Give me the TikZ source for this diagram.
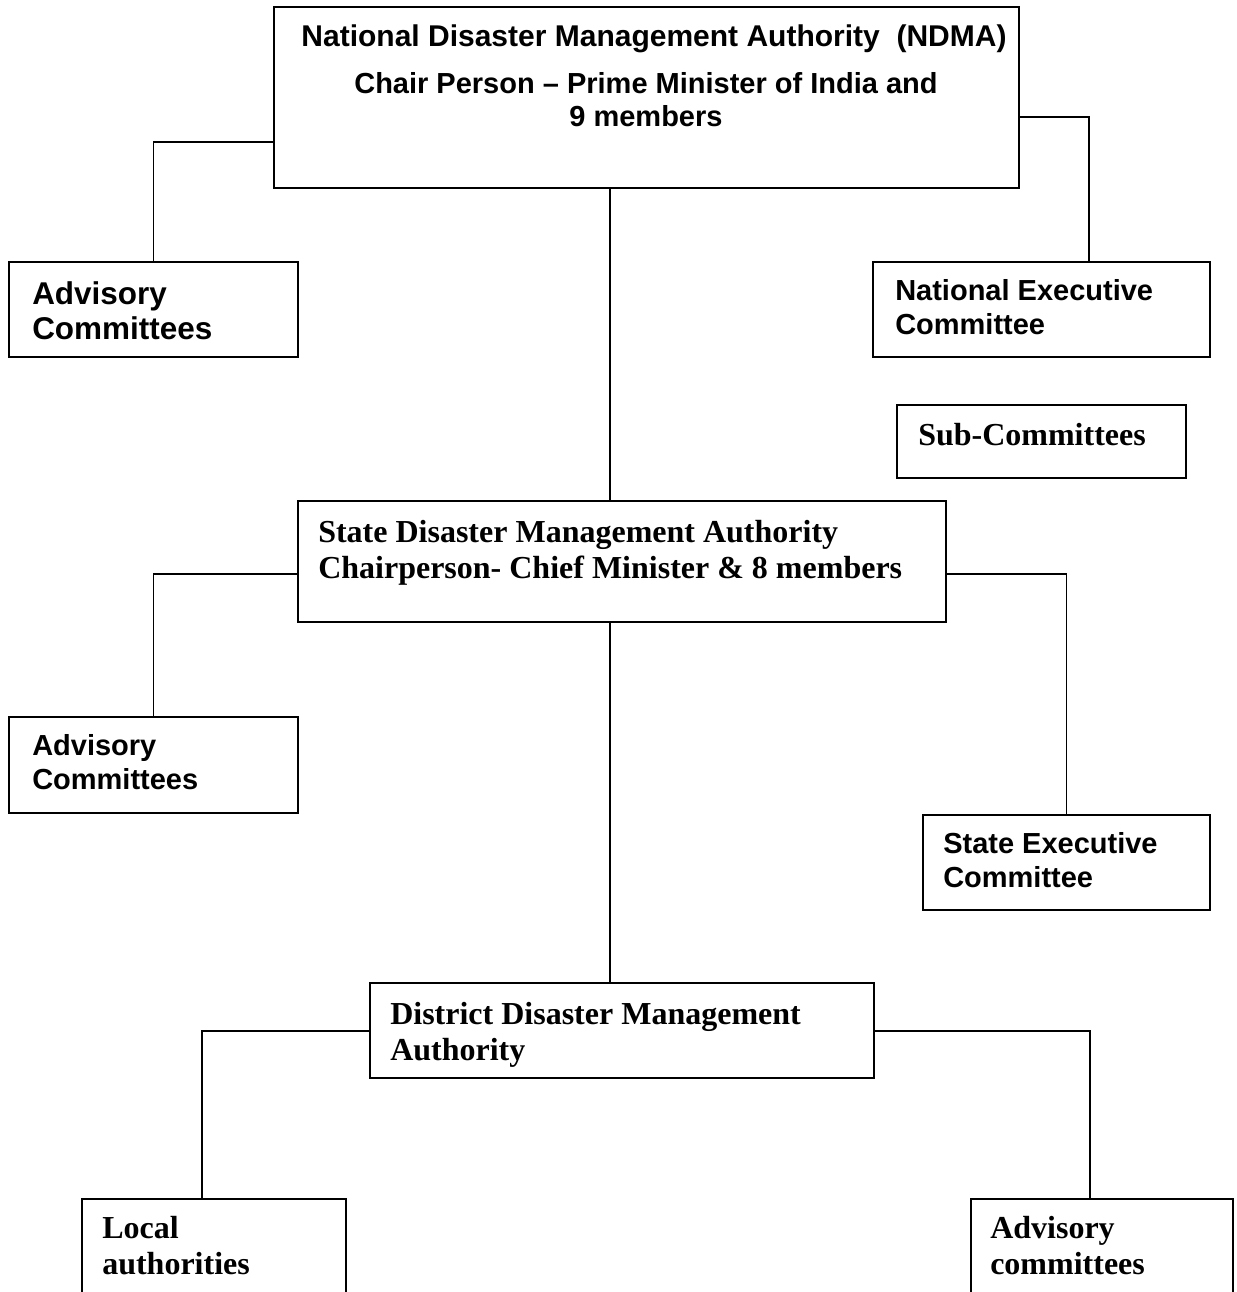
\documentclass[tikz,border=0pt]{standalone}
\usepackage{fontspec}
\newfontfamily\asans{Liberation Sans}
\newfontfamily\tser{Liberation Serif}
\usetikzlibrary{fit}
\tikzset{
  box/.style={draw=black, line width=1.6pt, inner sep=0pt, fill=none},
  conn/.style={draw=black, line width=1.2pt},
  txt/.style={inner sep=0pt, anchor=base west},
  arialtxt/.style={txt, font=\asans\bfseries\fontsize{21.75}{25.5}\selectfont},
  arialbig/.style={txt, font=\asans\bfseries\fontsize{23.6}{26.25}\selectfont},
  timestxt/.style={txt, font=\tser\bfseries\fontsize{24}{27.5}\selectfont},
  timesbot/.style={txt, font=\tser\bfseries\fontsize{24}{27}\selectfont}
}
\begin{document}
\begin{tikzpicture}[x=0.75pt, y=-0.75pt]
\useasboundingbox (0,0) rectangle (1236,1292);
\fill[white] (0,0) rectangle (1236,1292);
\clip (0,0) rectangle (1236,1292);

% boxes
\node[box, fit={(274,7) (1019,188)}] (ndma) {};
\node[box, fit={(9,262) (298,357)}] (adv1) {};
\node[box, fit={(873,262) (1210,357)}] (nec) {};
\node[box, fit={(897,405) (1186,478)}] (sub) {};
\node[box, fit={(298,501) (946,622)}] (sdma) {};
\node[box, fit={(9,717) (298,813)}] (adv2) {};
\node[box, fit={(923,815) (1210,910)}] (sec) {};
\node[box, fit={(370,983) (874,1078)}] (ddma) {};
\node[box, fit={(82,1199) (346,1330)}] (local) {};
\node[box, fit={(971,1199) (1233,1330)}] (adv3) {};

% texts
\node[inner sep=0pt, anchor=base, font=\asans\bfseries\fontsize{21.75}{24.75}\selectfont] (ndmaT) at (646,46)
  {\vtop{\halign{\hfil#\hfil\cr
   \kern12pt{\fontsize{22.5}{24.75}\selectfont National Disaster Management Authority\ \ (NDMA)}\cr
   \noalign{\vskip 10.5pt}
   Chair Person – Prime Minister of India and\cr
   9 members\cr}}};
\node[arialbig] (adv1T) at (32,304) {\vtop{\hbox{Advisory}\hbox{Committees}}};
\node[arialtxt] (necT) at (895,300) {\vtop{\hbox{National Executive}\hbox{Committee}}};
\node[timestxt] (subT) at (918,445) {Sub-Committees};
\node[timestxt] (sdmaT) at (318,542) {\vtop{\hbox{State Disaster Management Authority}\hbox{Chairperson- Chief Minister \& 8 members}}};
\node[arialtxt] (adv2T) at (32,755) {\vtop{\hbox{Advisory}\hbox{Committees}}};
\node[arialtxt] (secT) at (943,853) {\vtop{\hbox{State Executive}\hbox{Committee}}};
\node[timestxt] (ddmaT) at (390,1024) {\vtop{\hbox{District Disaster Management}\hbox{Authority}}};
\node[timesbot] (localT) at (102,1238) {\vtop{\hbox{Local}\hbox{authorities}}};
\node[timesbot] (adv3T) at (990,1238) {\vtop{\hbox{Advisory}\hbox{committees}}};

% connectors
\draw[conn] (ndma.west |- 0,142) -| (adv1.north);
\draw[conn] (ndma.east |- 0,117) -| (nec.north -| 1089,0);
\draw[conn] (ndma.south -| 610,0) -- (sdma.north -| 610,0);
\draw[conn] (sdma.west |- 0,574) -| (adv2.north);
\draw[conn] (sdma.east |- 0,574) -| (sec.north);
\draw[conn] (sdma.south -| 610,0) -- (ddma.north -| 610,0);
\draw[conn] (ddma.west |- 0,1031) -| (local.north -| 202,0);
\draw[conn] (ddma.east |- 0,1031) -| (adv3.north -| 1090,0);
\end{tikzpicture}
\end{document}
